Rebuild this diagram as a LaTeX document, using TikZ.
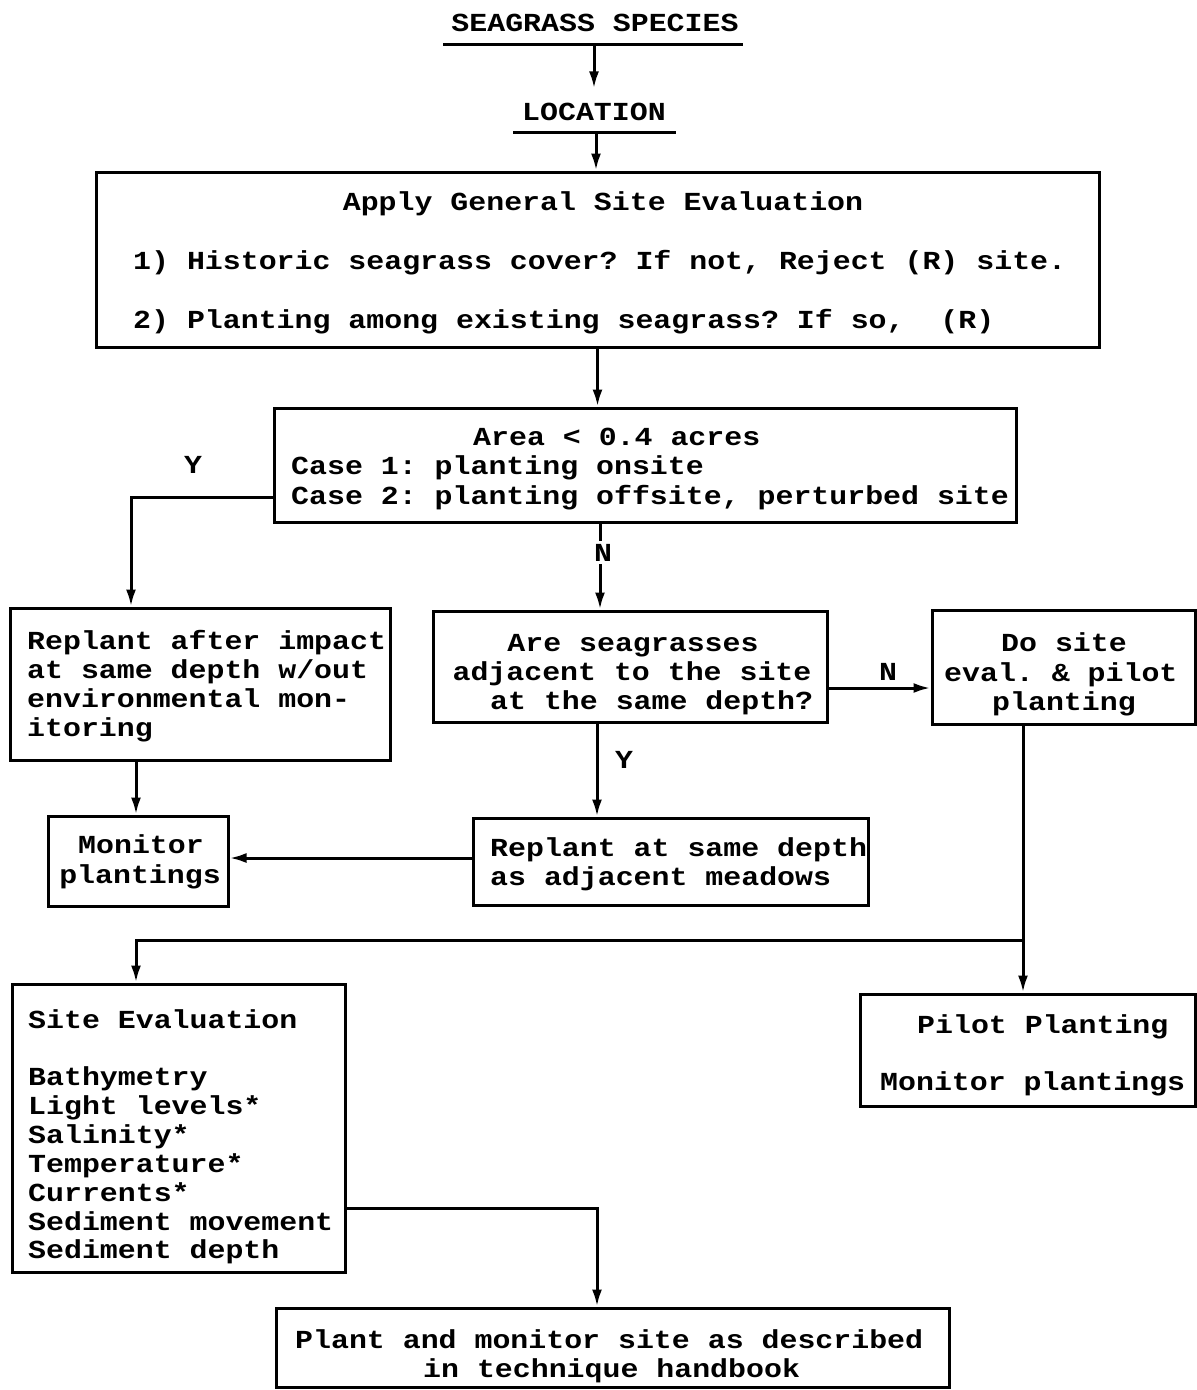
\documentclass[tikz,border=0pt]{standalone}
\usepackage{fontspec}
\newfontfamily\mono[FakeStretch=1.15]{Liberation Mono}
\usetikzlibrary{arrows.meta}
\frenchspacing
\begin{document}
\begin{tikzpicture}[x=1pt,y=-1pt,
  box/.style={draw,line width=3pt,inner sep=0pt,rectangle},
  txt/.style={inner sep=0pt,font=\mono\bfseries\fontsize{26}{29.5}\selectfont},
  lbl/.style={txt,fill=white,inner sep=3pt},
  arr/.style={line width=3pt,-{Latex[length=17pt,width=10pt]}},
  ln/.style={line width=3pt}]
\useasboundingbox (0,0) rectangle (1197,1390);

% titles
\node[txt,anchor=base] (t1) at (595,31) {SEAGRASS SPECIES};
\draw[ln] (443,44) -- (743,44);
\coordinate (u1) at (594,44);
\node[txt,anchor=base] (t2) at (594,120) {LOCATION};
\draw[ln] (513,132) -- (676,132);
\coordinate (u2) at (596,132);
\draw[arr] (u1) -- ([yshift=14pt]t2.north);

% boxes
\node[box,minimum width=1003pt,minimum height=175pt] (gen) at (597.5,259.5) {};
\node[box,minimum width=742pt,minimum height=114pt] (area) at (645,465) {};
\node[box,minimum width=380pt,minimum height=152pt] (rep) at (200,684) {};
\node[box,minimum width=394pt,minimum height=111pt] (are) at (630,666.5) {};
\node[box,minimum width=263pt,minimum height=114pt] (do) at (1063.5,667) {};
\node[box,minimum width=180pt,minimum height=90pt] (mon) at (138,861) {};
\node[box,minimum width=395pt,minimum height=87pt] (rs) at (670.5,861.5) {};
\node[box,minimum width=333pt,minimum height=288pt] (se) at (178.5,1128) {};
\node[box,minimum width=335pt,minimum height=112pt] (pil) at (1027.5,1050) {};
\node[box,minimum width=673pt,minimum height=79pt] (fin) at (612.5,1347.5) {};

% texts
\node[txt,anchor=base] (g0) at (603,210) {Apply General Site Evaluation};
\node[txt,anchor=base west] (g1) at (133,269) {1) Historic seagrass cover? If not, Reject (R) site.};
\node[txt,anchor=base west] (g2) at (133,328) {2) Planting among existing seagrass? If so,\ \ (R)};

\node[txt,anchor=base west] (a0) at (473,445) {Area < 0.4 acres};
\node[txt,anchor=base west] (a1) at (291,474) {Case 1: planting onsite};
\node[txt,anchor=base west] (a2) at (291,504) {Case 2: planting offsite, perturbed site};

\node[txt,anchor=base west] (r0) at (27,649) {Replant after impact};
\node[txt,anchor=base west] (r1) at (27,678) {at same depth w/out};
\node[txt,anchor=base west] (r2) at (27,707) {environmental mon-};
\node[txt,anchor=base west] (r3) at (27,736) {itoring};

\node[txt,anchor=base] (q0) at (633,651) {Are seagrasses};
\node[txt,anchor=base] (q1) at (632,680) {adjacent to the site};
\node[txt,anchor=base west] (q2) at (490,709) {at the same depth?};

\node[txt,anchor=base] (d0) at (1064,651) {Do site};
\node[txt,anchor=base west] (d1) at (944,681) {eval. \& pilot};
\node[txt,anchor=base] (d2) at (1064,710) {planting};

\node[txt,anchor=base] (m0) at (141,853) {Monitor};
\node[txt,anchor=base] (m1) at (140,883) {plantings};

\node[txt,anchor=base west] (s0) at (490,856) {Replant at same depth};
\node[txt,anchor=base west] (s1) at (490,885) {as adjacent meadows};

\node[txt,anchor=base west] (e0) at (28,1028) {Site Evaluation};
\node[txt,anchor=base west] (e1) at (28,1085) {Bathymetry};
\node[txt,anchor=base west] (e2) at (28,1114) {Light levels*};
\node[txt,anchor=base west] (e3) at (28,1143) {Salinity*};
\node[txt,anchor=base west] (e4) at (28,1172) {Temperature*};
\node[txt,anchor=base west] (e5) at (28,1201) {Currents*};
\node[txt,anchor=base west] (e6) at (28,1230) {Sediment movement};
\node[txt,anchor=base west] (e7) at (28,1258) {Sediment depth};

\node[txt,anchor=base west] (p0) at (917,1033) {Pilot Planting};
\node[txt,anchor=base west] (p1) at (880,1090) {Monitor plantings};

\node[txt,anchor=base west] (f0) at (295,1348) {Plant and monitor site as described};
\node[txt,anchor=base west] (f1) at (423,1377) {in technique handbook};

% helper coordinates
\coordinate (c1) at (131,497);
\coordinate (c2) at (600,0);
\coordinate (c3) at (0,688);
\coordinate (c4) at (597,0);
\coordinate (c5) at (136,0);
\coordinate (c6) at (0,858);
\coordinate (c7) at (1023,940);
\coordinate (c8) at (597,1208);

% connectors
\draw[arr] (u2) -- (gen.north -| u2);
\draw[arr] (gen.south) -- (gen.south |- area.north);
\draw[arr] (area.west |- c1) -| (rep.north -| c1);
\draw[arr] (area.south -| c2) -- (are.north -| c2);
\draw[arr] (are.east |- c3) -- (do.west |- c3);
\draw[arr] (are.south -| c4) -- (rs.north -| c4);
\draw[arr] (rep.south -| c5) -- (mon.north -| c5);
\draw[arr] (rs.west |- c6) -- (mon.east |- c6);
\draw[arr] (do.south -| c7) -- (pil.north -| c7);
\draw[arr] (c7) -| (se.north -| c5);
\draw[arr] (se.east |- c8) -| (fin.north -| c8);

% labels
\node[txt,anchor=base] (ly1) at (193,473) {Y};
\node[lbl,anchor=base] (ln1) at (603,561) {N};
\node[txt,anchor=base] (ln2) at (888,680) {N};
\node[txt,anchor=base] (ly2) at (624,768) {Y};
\end{tikzpicture}
\end{document}
